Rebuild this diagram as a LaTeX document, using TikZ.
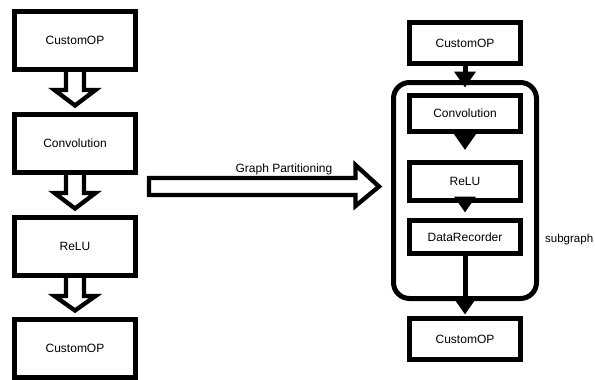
\documentclass[tikz,border=0pt]{standalone}
\usepackage{fontspec}
\setmainfont{Liberation Sans}
\usetikzlibrary{calc,arrows.meta}
\newcommand\hollowdn[2]{%
  \draw[hollow] ($(#1.south)+(-9,0)$) -- ($(#1.south)+(-9,18)$) -- ($(#1.south)+(-20.5,18)$)
    -- ($(#2.north)+(0,-6.5)$) -- ($(#1.south)+(20.5,18)$) -- ($(#1.south)+(9,18)$) -- ($(#1.south)+(9,0)$);}
\begin{document}
\begin{tikzpicture}[x=1pt,y=-1pt,
  txt/.style={font=\fontsize{12}{14}\selectfont},
  lbox/.style={draw, line width=5pt, minimum width=121pt, minimum height=58pt, inner sep=0pt, txt},
  rbox/.style={draw, line width=5pt, minimum width=111pt, inner sep=0pt, txt},
  hollow/.style={line width=4.3pt, line join=miter},
  arr/.style={line width=5pt, -{Triangle[length=16pt,width=21pt]}}]
\useasboundingbox (0,0) rectangle (595,380);
% left column
\node[lbox] (l1) at (75,40.5) {CustomOP};
\node[lbox] (l2) at (75,143.5) {Convolution};
\node[lbox] (l3) at (75,246.5) {ReLU};
\node[lbox] (l4) at (75,348.5) {CustomOP};
\hollowdn{l1}{l2}
\hollowdn{l2}{l3}
\hollowdn{l3}{l4}
% right column
\node[draw, line width=5pt, rounded corners=16pt, minimum width=143pt, minimum height=216pt, inner sep=0pt] (sub) at (465,190.5) {};
\node[rbox, minimum height=41pt] (r1) at (465,43) {CustomOP};
\node[rbox, minimum height=36pt] (r2) at (465,113.5) {Convolution};
\node[rbox, minimum height=38pt] (r3) at (465,181.5) {ReLU};
\node[rbox, minimum height=33pt] (r4) at (465,237) {DataRecorder};
\node[rbox, minimum height=41pt] (r5) at (465,339) {CustomOP};
\draw[arr] (r1.south) -- ($(sub.north)+(0,7.5)$);
\draw[arr, shorten >=10pt] (r2.south) -- (r3.north);
\draw[arr, shorten >=5.5pt] (r3.south) -- (r4.north);
\draw[arr, shorten >=1.5pt] (r4.south) -- (r5.north);
\node[font=\fontsize{11.5}{13}\selectfont, anchor=west, inner sep=0pt] (sg) at (545,240) {subgraph};
% graph partitioning arrow
\coordinate (gpS) at (149,186.5);
\coordinate (gpT) at (379,186.5);
\draw[hollow] ($(gpS)+(0,-8.5)$) -- ($(gpT)+(-23.5,-8.5)$) -- ($(gpT)+(-23.5,-21.5)$) -- (gpT)
  -- ($(gpT)+(-23.5,19.5)$) -- ($(gpT)+(-23.5,8.5)$) -- ($(gpS)+(0,8.5)$) -- cycle;
\node[txt, inner sep=0pt] (gpl) at (284,169) {Graph Partitioning};
\end{tikzpicture}
\end{document}
